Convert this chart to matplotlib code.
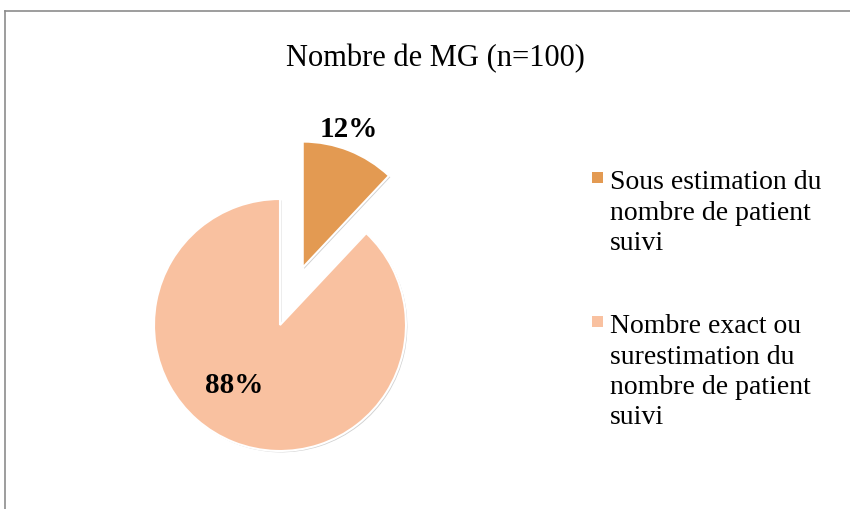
import matplotlib
matplotlib.use("Agg")
import matplotlib.pyplot as plt
import matplotlib.patheffects as pe
from matplotlib.lines import Line2D
from matplotlib.patches import Rectangle
import numpy as np

title = "Nombre de MG (n=100)"
categories = ["Sous estimation du\nnombre de patient\nsuivi",
              "Nombre exact ou\nsurestimation du\nnombre de patient\nsuivi"]
values = [12, 88]
colors = ["#E39A52", "#F9C1A0"]
explode = [0.49, 0.0]

serif = ["Liberation Serif", "DejaVu Serif"]

W, H = 850, 509
fig = plt.figure(figsize=(W / 100, H / 100), dpi=100)
fig.patch.set_facecolor("white")

R = 126.0
cx, cy = 280.0, 509 - 325.0
x0, x1, y0, y1 = -1.2, 1.8, -1.2, 1.8
ax = fig.add_axes([(cx + x0 * R) / W, (cy + y0 * R) / H, (x1 - x0) * R / W, (y1 - y0) * R / H])
ax.set_xlim(x0, x1)
ax.set_ylim(y0, y1)
ax.set_aspect("equal")
ax.axis("off")

wedges, texts, autotexts = ax.pie(values, colors=colors, explode=explode, startangle=90,
                                  counterclock=False, radius=1.0,
                                  autopct="%1.0f%%", pctdistance=0.6,
                                  wedgeprops=dict(edgecolor="white", linewidth=1.5),
                                  textprops=dict(family=serif, fontsize=21, fontweight="bold", color="black"))
for w in wedges:
    w.set_path_effects([pe.SimplePatchShadow(offset=(1.0, -1.0), shadow_rgbFace="#999999", alpha=0.45),
                        pe.Normal()])
ax.set_xlim(x0, x1)
ax.set_ylim(y0, y1)

# label placement (distance, angle in degrees) relative to pie centre
label_pos = [(1.645, 70.6), (0.60, -127.0)]
for t, (r, a) in zip(autotexts, label_pos):
    t.set_position((r * np.cos(np.radians(a)), r * np.sin(np.radians(a))))
    t.set_clip_on(False)

fig.text(435 / W, 1 - 59 / H, title, ha="center", va="center", family=serif, fontsize=22)

# legend drawn line by line
line_step = 30.5
entry_first_baseline = [189.0, 333.0]
for lab, col, b0 in zip(categories, colors, entry_first_baseline):
    fig.add_artist(Rectangle((592 / W, 1 - (b0 - 6) / H), 11 / W, 11 / H,
                             transform=fig.transFigure, facecolor=col, edgecolor="none"))
    for i, line in enumerate(lab.split("\n")):
        fig.text(610 / W, 1 - (b0 + i * line_step) / H, line, ha="left", va="baseline",
                 family=serif, fontsize=20)

# outer frame
fig.add_artist(Line2D([5 / W, 1.0], [1 - 11 / H, 1 - 11 / H], color="#8C8C8C", lw=1.2))
fig.add_artist(Line2D([5 / W, 5 / W], [1 - 11 / H, 0.0], color="#8C8C8C", lw=1.2))

fig.savefig("out.png", dpi=100, facecolor="white")
